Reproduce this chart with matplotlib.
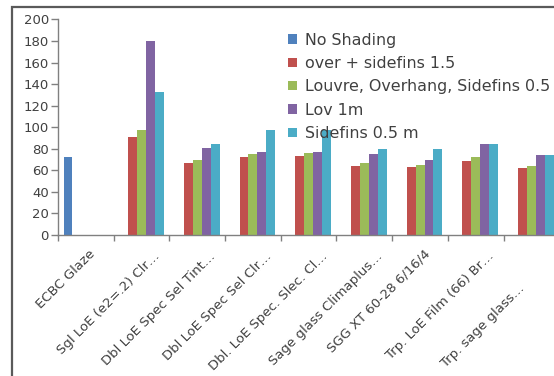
import matplotlib
matplotlib.use("Agg")
import matplotlib.pyplot as plt
import matplotlib.transforms as mtransforms
import numpy as np
from matplotlib.patches import Patch, Rectangle

categories = [
    "ECBC Glaze",
    "Sgl LoE (e2=.2) Clr\u2026",
    "Dbl LoE Spec Sel Tint\u2026",
    "Dbl LoE Spec Sel Clr\u2026",
    "Dbl. LoE Spec. Slec. Cl\u2026",
    "Sage glass Climaplus\u2026",
    "SGG XT 60-28 6/16/4",
    "Trp. LoE Film (66) Br\u2026",
    "Trp. sage glass\u2026",
]
series_names = [
    "No Shading",
    "over + sidefins 1.5",
    "Louvre, Overhang, Sidefins 0.5",
    "Lov 1m",
    "Sidefins 0.5 m",
]
no_shading = [72, 0, 0, 0, 0, 0, 0, 0, 0]
over_sidefins = [0, 91, 67, 72, 73, 64, 63, 69, 62]
louvre_overhang = [0, 97, 70, 75.5, 76, 66.5, 65, 72.5, 64]
lov_1m = [0, 180.5, 80.5, 77, 77, 75, 70, 84.5, 74.5]
sidefins_05 = [0, 133, 84.5, 97, 97.5, 80, 79.5, 84.5, 74.5]
y_ticks = [0, 20, 40, 60, 80, 100, 120, 140, 160, 180, 200]

colors = ["#4F81BD", "#C0504D", "#9BBB59", "#8064A2", "#4BACC6"]
series = [no_shading, over_sidefins, louvre_overhang, lov_1m, sidefins_05]

W, H = 554, 376
fig = plt.figure(figsize=(W / 100, H / 100), dpi=100)
fig.patch.set_facecolor("white")

# outer chart border (continues past the right and bottom edges)
fig.patches.append(Rectangle((12 / W, -0.05), 1.1, 1 - 7 / H + 0.05,
                             transform=fig.transFigure, fill=False,
                             edgecolor="#5a5a5a", linewidth=1.6, zorder=0))

ax_left, ax_bottom = 58 / W, (H - 235) / H
ax_w, ax_h = 9 * 55.7 / W, (235 - 19.5) / H
ax = fig.add_axes([ax_left, ax_bottom, ax_w, ax_h])

x = np.arange(len(categories))
bw = 0.8 / 5
for i, (vals, c, name) in enumerate(zip(series, colors, series_names)):
    ax.bar(x - 0.4 + bw * (i + 0.5), vals, width=bw, color=c, label=name,
           linewidth=0, zorder=2)

ax.set_xlim(-0.5, len(categories) - 0.5)
ax.set_ylim(0, 200)
ax.set_yticks(y_ticks)
ax.tick_params(axis="y", direction="out", length=5, width=1, color="#808080",
               labelsize=9.5, labelcolor="#404040", pad=1.5)

# category separators as x ticks; category names drawn as rotated text
ax.set_xticks(np.arange(len(categories) + 1) - 0.5)
ax.set_xticklabels([])
ax.tick_params(axis="x", which="major", direction="out", length=4.5, width=1,
               color="#808080")

blend = mtransforms.blended_transform_factory(ax.transData, ax.transAxes)
for xi, name in zip(x, categories):
    if xi == len(categories) - 1:
        # last name is pulled back so it stays inside the chart border
        dx, dy = -9.7, -33.5
    elif name.endswith("\u2026"):
        dx, dy = 8.6, -10.4
    else:
        dx, dy = 2.2, -9.0
    off = mtransforms.ScaledTranslation(dx / 72, dy / 72, fig.dpi_scale_trans)
    ax.text(xi, 0, name, transform=blend + off, rotation=45, ha="right",
            va="top", rotation_mode="anchor", fontsize=9.5, color="#404040",
            clip_on=False)

for s in ["top", "right"]:
    ax.spines[s].set_visible(False)
for s in ["left", "bottom"]:
    ax.spines[s].set_color("#808080")
    ax.spines[s].set_linewidth(1)

handles = [Patch(facecolor=c, edgecolor="none") for c in colors]
fig.legend(handles, series_names, loc="upper left",
           bbox_to_anchor=(288 / W, 1 - 32.5 / H), frameon=False,
           fontsize=11.4, labelcolor="#404040", handlelength=0.55,
           handleheight=0.55, handletextpad=0.5, labelspacing=0.53,
           borderaxespad=0, borderpad=0)

fig.savefig("out.png", dpi=100, facecolor="white")
